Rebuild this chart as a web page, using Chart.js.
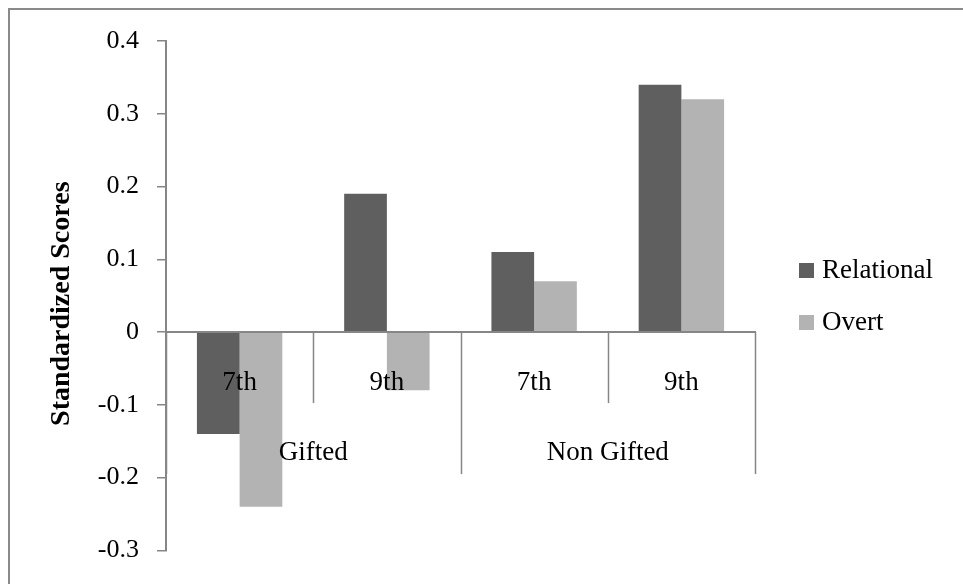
<!DOCTYPE html>
<html>
<head>
<meta charset="utf-8">
<script src="https://cdn.jsdelivr.net/npm/chart.js@4.4.1/dist/chart.umd.min.js"></script>
<style>
  html, body { margin: 0; padding: 0; background: #ffffff; }
  #wrap { width: 963px; height: 584px; }
</style>
</head>
<body>
<div id="wrap"><canvas id="c" width="963" height="584"></canvas></div>
<script>
// Standardized aggression scores by grade within each group
const grades = ['7th', '9th', '7th', '9th'];
const groups = ['Gifted', 'Non Gifted'];
const groupSpans = [[0, 1], [2, 3]];          // first and last grade index of each group
const seriesNames = ['Relational', 'Overt'];
const relational = [-0.14, 0.19, 0.11, 0.34];
const overt = [-0.24, -0.08, 0.07, 0.32];
const yTicks = ['-0.3', '-0.2', '-0.1', '0', '0.1', '0.2', '0.3', '0.4'];
const yTitle = 'Standardized Scores';

const FONT = "'Liberation Serif', 'Times New Roman', serif";
const AXIS = '#868686';
const COLORS = ['#5f5f5f', '#b3b3b3'];
const TEXT_SIZE = 27;

// Outer frame of the chart
const framePlugin = {
  id: 'frame',
  beforeDraw(chart) {
    const ctx = chart.ctx;
    ctx.save();
    ctx.strokeStyle = '#8a8a8a';
    ctx.lineWidth = 2;
    ctx.strokeRect(9, 9, 2000, 2000);
    ctx.restore();
  }
};

// Vertical axis title, set slightly below the middle of the plot
const yTitlePlugin = {
  id: 'yTitle',
  afterDraw(chart) {
    const ctx = chart.ctx;
    const area = chart.chartArea;
    ctx.save();
    ctx.translate(62, (area.top + area.bottom) / 2 + 8);
    ctx.rotate(-Math.PI / 2);
    ctx.font = 'bold 28px ' + FONT;
    ctx.fillStyle = '#000000';
    ctx.textAlign = 'center';
    ctx.textBaseline = 'middle';
    ctx.fillText(yTitle, 0, 0);
    ctx.restore();
  }
};

// Category dividers hanging from the zero line and the group labels beneath
const groupAxisPlugin = {
  id: 'groupAxis',
  afterDraw(chart) {
    const x = chart.scales.x, y = chart.scales.y;
    const ctx = chart.ctx;
    const y0 = y.getPixelForValue(0);
    const n = grades.length;
    const boundary = (i) => {
      if (i <= 0) return x.left;
      if (i >= n) return x.right;
      return (x.getPixelForValue(i - 1) + x.getPixelForValue(i)) / 2;
    };
    const groupStarts = new Set(groupSpans.map(s => s[0]));
    ctx.save();
    ctx.strokeStyle = AXIS;
    ctx.lineWidth = 1.5;
    for (let i = 0; i <= n; i++) {
      const bx = Math.round(boundary(i)) + 0.5;
      const long = i === n || groupStarts.has(i);
      ctx.beginPath();
      ctx.moveTo(bx, y0);
      ctx.lineTo(bx, y0 + (long ? 142 : 71));
      ctx.stroke();
    }
    ctx.fillStyle = '#000000';
    ctx.font = TEXT_SIZE + 'px ' + FONT;
    ctx.textAlign = 'center';
    ctx.textBaseline = 'middle';
    groups.forEach((g, k) => {
      const [a, b] = groupSpans[k];
      const cx = (boundary(a) + boundary(b + 1)) / 2;
      ctx.fillText(g, cx, y0 + 121);
    });
    ctx.restore();
  }
};

// Legend drawn to the right of the plot
const sideLegendPlugin = {
  id: 'sideLegend',
  afterDraw(chart) {
    const ctx = chart.ctx;
    const area = chart.chartArea;
    ctx.save();
    ctx.font = TEXT_SIZE + 'px ' + FONT;
    ctx.textAlign = 'left';
    ctx.textBaseline = 'middle';
    chart.data.datasets.forEach((ds, i) => {
      const top = 263 + i * 52;
      ctx.fillStyle = ds.backgroundColor;
      ctx.fillRect(area.right + 44, top, 15, 15);
      ctx.fillStyle = '#000000';
      ctx.fillText(ds.label, area.right + 67, top + 8);
    });
    ctx.restore();
  }
};

Chart.defaults.font.family = FONT;
Chart.defaults.color = '#000000';

new Chart(document.getElementById('c'), {
  type: 'bar',
  data: {
    labels: grades,
    datasets: [
      { label: seriesNames[0], data: relational, backgroundColor: COLORS[0] },
      { label: seriesNames[1], data: overt, backgroundColor: COLORS[1] }
    ]
  },
  options: {
    responsive: false,
    animation: false,
    events: [],
    layout: { padding: { left: 0, top: 41, right: 208, bottom: 30 } },
    datasets: { bar: { barPercentage: 1.0, categoryPercentage: 0.58 } },
    plugins: {
      legend: { display: false },
      tooltip: { enabled: false }
    },
    scales: {
      x: {
        position: { y: 0 },
        grid: { display: false, drawTicks: false },
        border: { display: true, color: AXIS, width: 2, z: 1 },
        ticks: { font: { size: TEXT_SIZE }, padding: 35, color: '#000000', z: 1 },
        afterFit(scale) { scale.height = 0; }
      },
      y: {
        min: -0.3,
        max: 0.4,
        ticks: {
          stepSize: 0.1,
          font: { size: 26 },
          padding: 18,
          color: '#000000',
          callback: (v, i) => yTicks[i]
        },
        grid: { display: true, drawOnChartArea: false, drawTicks: true, tickLength: 9, color: AXIS, lineWidth: 1.5 },
        border: { display: true, color: AXIS, width: 2 },
        title: { display: false },
        afterFit(scale) { scale.width = 166; }
      }
    }
  },
  plugins: [framePlugin, yTitlePlugin, groupAxisPlugin, sideLegendPlugin]
});
</script>
</body>
</html>
